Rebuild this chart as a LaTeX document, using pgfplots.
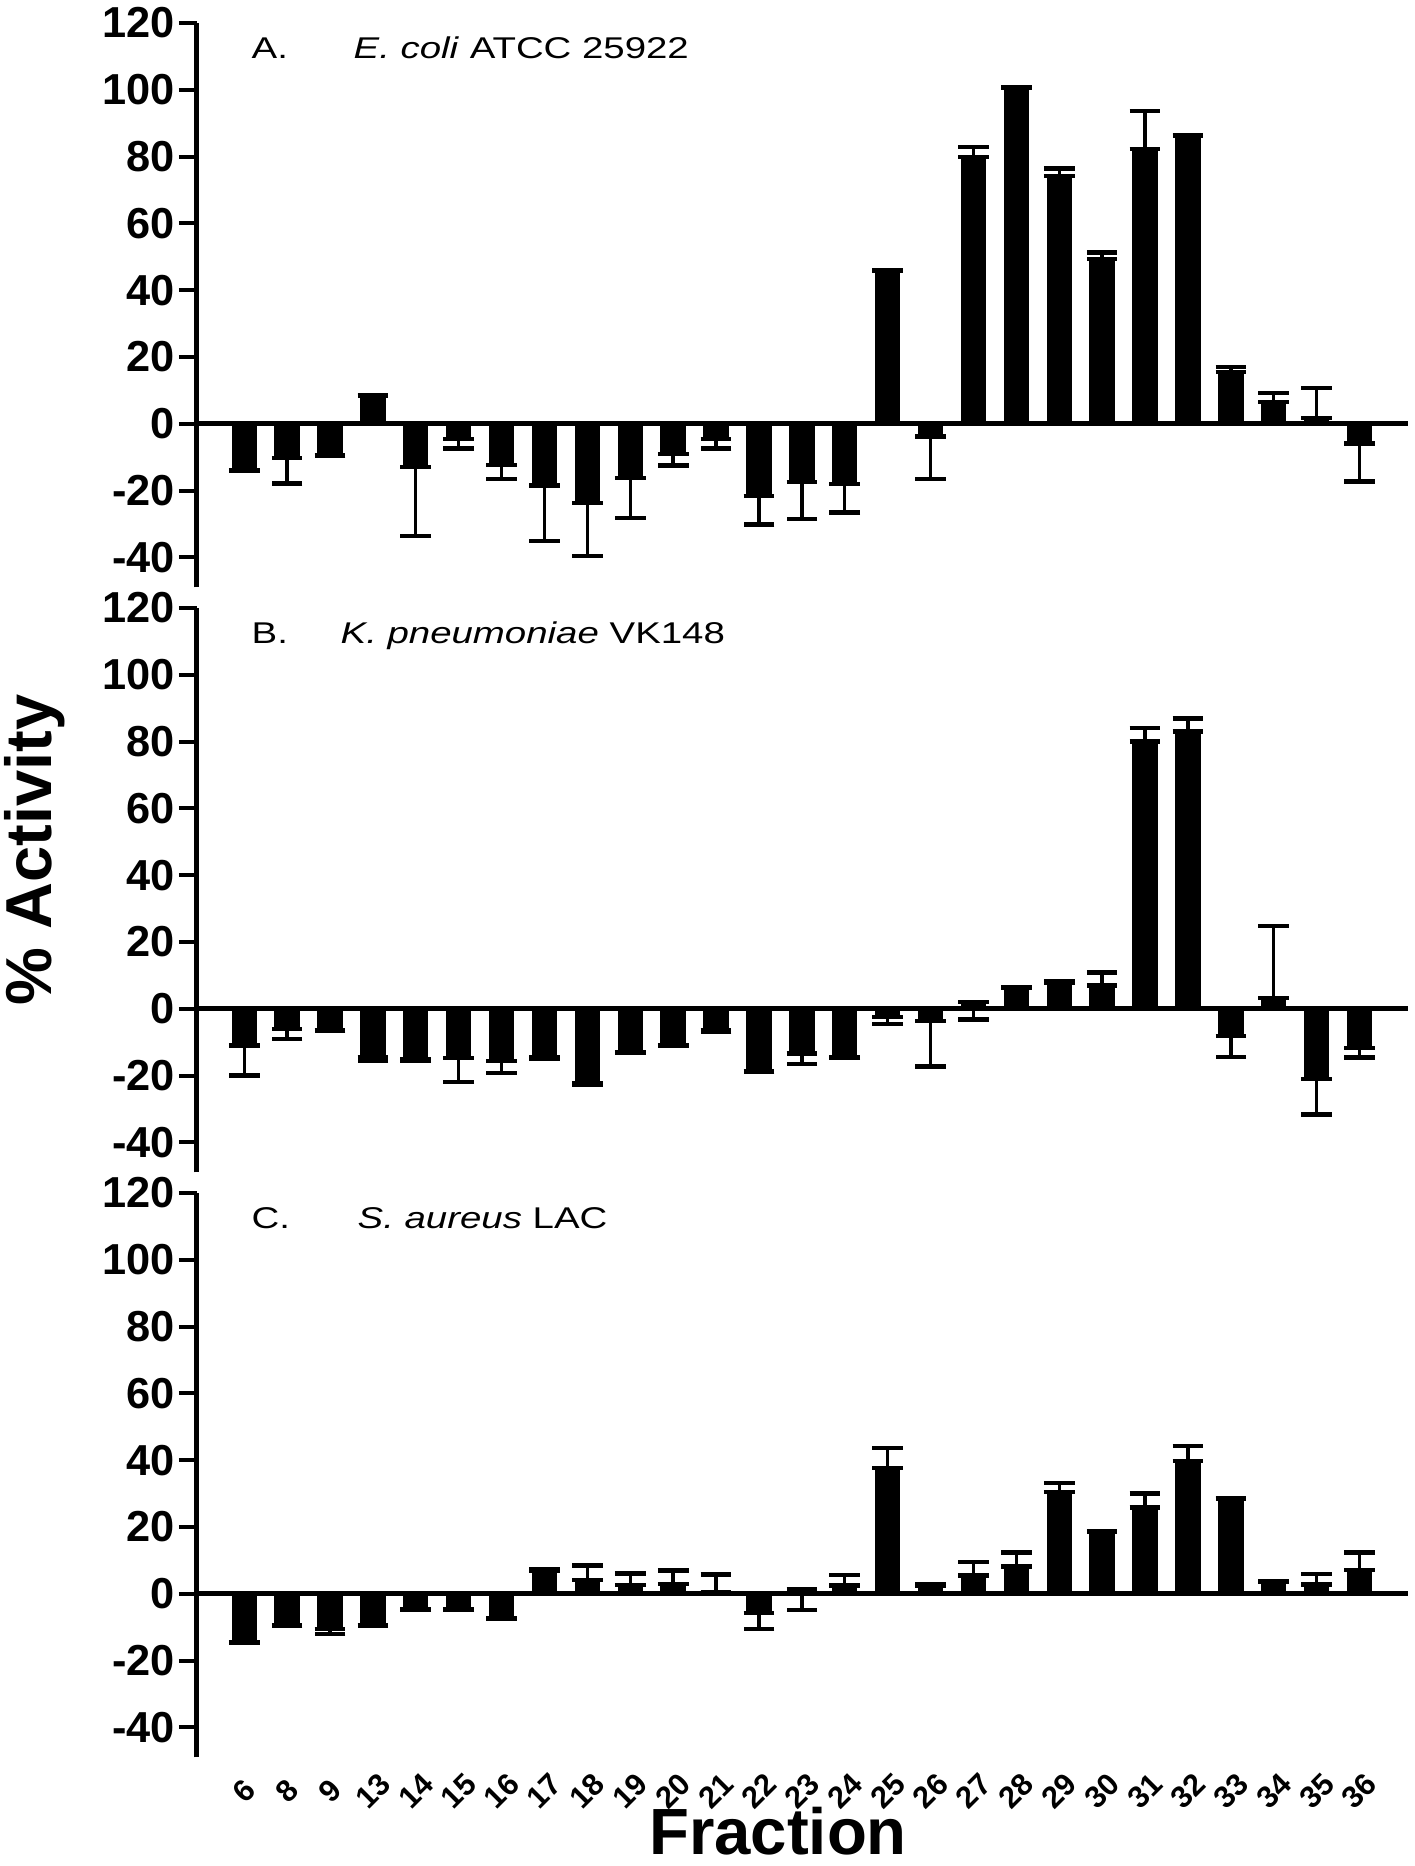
\documentclass[border=0pt]{standalone}
\usepackage{fontspec}
\setmainfont{Liberation Sans}
\usepackage{graphicx}
\usepackage{pgfplots}
\usepackage{pgfplotstable}
\pgfplotsset{compat=1.18}

% x = category index, fraction = label, y = mean, ep/em = error plus/minus
\pgfplotstableread{
x frac y ep em
0 6 -13.8 0 0.3
1 8 -10.3 0 7.6
2 9 -9.3 0 0.3
3 13 8.2 0.3 0
4 14 -13 0 20.6
5 15 -4.6 0 2.8
6 16 -12.3 0 4.2
7 17 -18.5 0 16.6
8 18 -23.7 0 16
9 19 -16.3 0 11.9
10 20 -9.1 0 3.4
11 21 -4.6 0 2.8
12 22 -21.7 0 8.5
13 23 -17.4 0 11.1
14 24 -18 0 8.6
15 25 45.8 0.3 0
16 26 -3.8 0 12.7
17 27 79.8 3.1 0
18 28 100.6 0.3 0
19 29 74.1 2.3 0
20 30 49.3 2 0
21 31 82.3 11.4 0
22 32 86.1 0.3 0
23 33 15.4 1.5 0
24 34 6.6 2.5 0
25 35 1.7 8.9 0
26 36 -5.9 0 11.4
}\dataA

\pgfplotstableread{
x frac y ep em
0 6 -11 0 9
1 8 -6 0 3
2 9 -6.3 0 0.3
3 13 -14.5 0 1
4 14 -15 0 0.7
5 15 -14.7 0 7.3
6 16 -15.6 0 3.7
7 17 -14.6 0 0.3
8 18 -22.4 0 0.3
9 19 -13 0 0.3
10 20 -10.8 0 0.3
11 21 -6.5 0 0.3
12 22 -18.7 0 0.3
13 23 -13.4 0 3.2
14 24 -14.5 0 0.3
15 25 -2.5 0 2
16 26 -3.6 0 13.7
17 27 2 0 5.2
18 28 6.2 0.3 0
19 29 7.9 0.3 0
20 30 7 3.8 0
21 31 80 4 0
22 32 83 3.9 0
23 33 -8.2 0 6.3
24 34 3.3 21.4 0
25 35 -21 0 10.7
26 36 -11.8 0 2.8
}\dataB

\pgfplotstableread{
x frac y ep em
0 6 -14.5 0 0.3
1 8 -9.3 0 0.3
2 9 -10.5 0 1.5
3 13 -9.3 0 0.3
4 14 -4.5 0 0.3
5 15 -4.5 0 0.3
6 16 -7.2 0 0.3
7 17 7 0.3 0
8 18 4.2 4.3 0
9 19 2.7 3.4 0
10 20 3 4 0
11 21 0.5 5.3 0
12 22 -5.7 0 4.9
13 23 1.5 0 6.3
14 24 2.5 3.2 0
15 25 37.7 5.9 0
16 26 2.5 0.3 0
17 27 5.5 4 0
18 28 8.2 4.1 0
19 29 30.5 2.6 0
20 30 18.4 0.3 0
21 31 25.8 4.2 0
22 32 39.7 4.5 0
23 33 28.3 0.3 0
24 34 3.5 0.3 0
25 35 2.8 3.2 0
26 36 7.2 5.1 0
}\dataC

\pgfplotsset{
  panel/.style={
    scale only axis,
    width=363.3pt, height=169.3pt,
    xmin=-1.1, xmax=27.13, ymin=-49, ymax=120,
    axis y line*=left, axis x line*=bottom,
    x axis line style={draw=none},
    y axis line style={line width=1.5pt, black},
    ytick={-40,-20,0,20,40,60,80,100,120},
    yticklabels={-40,-20,0,20,40,60,80,100,120},
    tick align=outside,
    major tick length=5.4pt,
    ytick style={line width=1.2pt, black},
    xtick style={draw=none},
    yticklabel style={font=\fontsize{13}{13}\selectfont\bfseries, inner sep=1pt},
    clip=false,
  },
  bars/.style={
    ybar, bar width=0.56, fill=black, draw=black,
    error bars/.cd, y dir=both, y explicit,
    error bar style={line width=1pt, black},
    error mark options={rotate=90, mark size=4.6pt, line width=1.3pt, black},
  },
  zeroline/.style={black, line width=1.5pt, forget plot, no marks},
}

\newcommand{\paneltitle}[3]{%
  \node[anchor=base west, inner sep=0pt] at (rel axis cs:0,1) [xshift=16.2pt, yshift=-10.6pt]
    {\scalebox{1.28}[1]{\fontsize{9}{10}\selectfont #1}};
  \node[anchor=base west, inner sep=0pt] at (rel axis cs:0,1) [xshift=#3, yshift=-10.6pt]
    {\scalebox{1.28}[1]{\fontsize{9}{10}\selectfont #2}};
}

\begin{document}
\begin{tikzpicture}
\path[use as bounding box] (0,0) rectangle (424.2pt,-559.8pt);

% Panel A
\begin{axis}[panel, at={(59.1pt,-6.9pt)}, anchor=north west, xtick=\empty]
\addplot[zeroline] coordinates {(-1.1,0) (27.13,0)};
\addplot[bars] table[x=x, y=y, y error plus=ep, y error minus=em] {\dataA};
\paneltitle{A.}{\textit{E. coli} ATCC 25922}{46.8pt}
\end{axis}

% Panel B
\begin{axis}[panel, at={(59.1pt,-182.4pt)}, anchor=north west, xtick=\empty]
\addplot[zeroline] coordinates {(-1.1,0) (27.13,0)};
\addplot[bars] table[x=x, y=y, y error plus=ep, y error minus=em] {\dataB};
\paneltitle{B.}{\textit{K. pneumoniae} VK148}{42.9pt}
\end{axis}

% Panel C
\begin{axis}[panel, at={(59.1pt,-357.9pt)}, anchor=north west,
  xtick={0,...,26},
  xticklabels={6,8,9,13,14,15,16,17,18,19,20,21,22,23,24,25,26,27,28,29,30,31,32,33,34,35,36},
  xticklabel style={yshift=-4.8pt, rotate=45, anchor=center, inner sep=0pt, font=\fontsize{9.2}{10}\selectfont\bfseries}]
\addplot[zeroline] coordinates {(-1.1,0) (27.13,0)};
\addplot[bars] table[x=x, y=y, y error plus=ep, y error minus=em] {\dataC};
\paneltitle{C.}{\textit{S. aureus} LAC}{48pt}
\end{axis}

\node[rotate=90, font=\fontsize{19.5}{20}\selectfont\bfseries] at (10.5pt,-255pt) {\% Activity};
\node[anchor=base, inner sep=0pt, font=\fontsize{19.6}{20}\selectfont\bfseries] at (233.4pt,-556.2pt) {Fraction};
\end{tikzpicture}
\end{document}
